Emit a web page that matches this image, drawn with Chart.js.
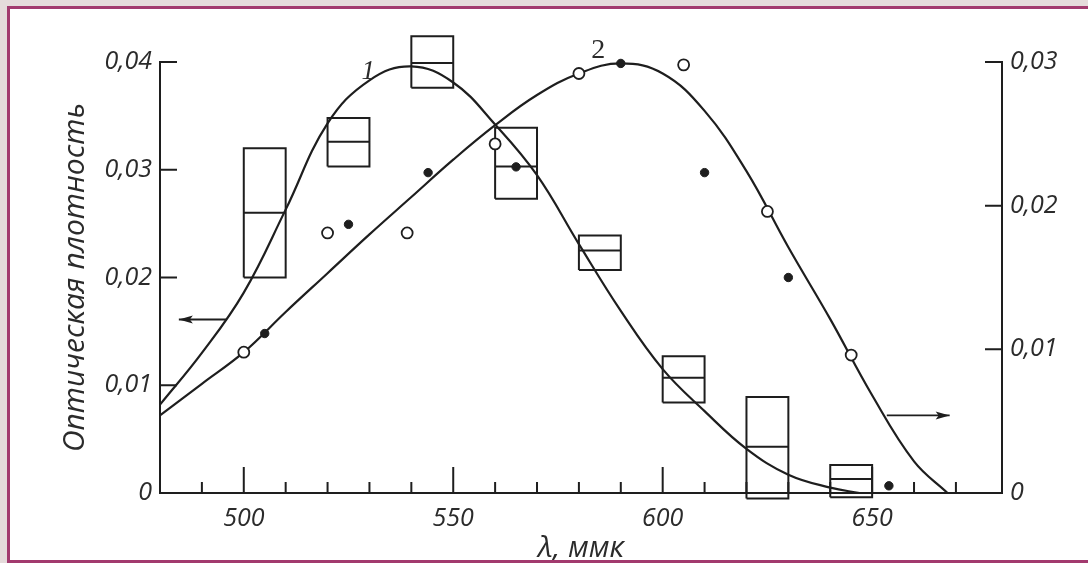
<!DOCTYPE html>
<html lang="ru">
<head>
<meta charset="utf-8">
<title>Оптическая плотность</title>
<script src="https://cdn.jsdelivr.net/npm/chart.js@4.4.1/dist/chart.umd.min.js"></script>
<style>
    html, body { margin: 0; padding: 0; overflow: hidden; background: #e5dbdb; }
    #paper { position: absolute; left: 10px; top: 9px; right: 0; bottom: 3px; background: #ffffff; }
    #frame { position: absolute; left: 7px; top: 6px; right: -10px; bottom: 0; border: 3px solid #a23a6e; pointer-events: none; z-index: 3; }
    #chartContainer { position: absolute; left: 0; top: 0; width: 1088px; height: 563px; z-index: 2; }
</style>
</head>
<body>
<div id="paper"></div>
<div id="chartContainer"><canvas id="spectrum"></canvas></div>
<div id="frame"></div>
<script>
// Curve 1 (left axis)
const curve1X = [480, 490, 500, 510, 520, 530, 540, 550, 560, 570, 580, 590, 600, 610, 620, 630, 640, 647];
const curve1Y = [0.0082, 0.0130, 0.0186, 0.0263, 0.0343, 0.0383, 0.0396, 0.0381, 0.0342, 0.0295, 0.0231, 0.0169, 0.0115, 0.0076, 0.0041, 0.0017, 0.0005, 0.0];

// Curve 2 (right axis)
const curve2X = [480, 490, 500, 510, 520, 530, 540, 550, 560, 570, 580, 590, 600, 610, 620, 630, 640, 650, 660, 668];
const curve2Y = [0.0054, 0.0076, 0.0098, 0.0126, 0.0153, 0.0180, 0.0206, 0.0232, 0.0256, 0.0277, 0.0292, 0.0299, 0.0292, 0.0266, 0.0224, 0.0171, 0.0121, 0.0068, 0.0022, 0.0];

// Open circles and filled dots (right axis)
const openX = [500, 520, 539, 560, 580, 605, 625, 645];
const openY = [0.0098, 0.0181, 0.0181, 0.0243, 0.0292, 0.0298, 0.0196, 0.0096];
const dotX = [505, 525, 544, 565, 590, 610, 630, 654];
const dotY = [0.0111, 0.0187, 0.0223, 0.0227, 0.0299, 0.0223, 0.0150, 0.0005];

// Boxes (left axis): start wavelength, low, middle, high
const boxStart = [500, 520, 540, 560, 580, 600, 620, 640];
const boxLow = [0.0200, 0.0303, 0.0376, 0.0273, 0.0207, 0.0084, -0.0005, -0.0004];
const boxMid = [0.0260, 0.0326, 0.0399, 0.0303, 0.0225, 0.0107, 0.0043, 0.0013];
const boxHigh = [0.0320, 0.0348, 0.0424, 0.0339, 0.0239, 0.0127, 0.0089, 0.0026];
const boxWidth = 10;

// Axis ticks
const xMinorTicks = [490, 500, 510, 520, 530, 540, 550, 560, 570, 580, 590, 600, 610, 620, 630, 640, 650, 660, 670];
const xMajorTicks = [500, 550, 600, 650];
const leftTicks = [0, 0.01, 0.02, 0.03, 0.04];
const rightTicks = [0, 0.01, 0.02, 0.03];

// Curve numbers and arrows, in data units of the left axis
const curveLabels = [{ text: '1', x: 529.7, y: 0.0391, font: 'italic 27px "Liberation Serif"' }, { text: '2', x: 584.6, y: 0.0411, font: '28px "Liberation Serif"' }];
const arrows = [{ x0: 496, x1: 484.5, y: 0.0161 }, { x0: 653.5, x1: 668.5, y: 0.0072 }];

const ink = '#1e1e1e';
const textColor = '#2b2b2b';
const fontFamily = '"Open Sans", "DejaVu Sans", sans-serif';

function toPoints(xs, ys) {
    return xs.map((x, i) => ({ x: x, y: ys[i] }));
}

// Each box: closed rectangle, then its middle line, separated by gaps
function buildBoxes() {
    const pts = [];
    boxStart.forEach((x0, i) => {
        const x1 = x0 + boxWidth;
        pts.push({ x: x0, y: boxLow[i] }, { x: x0, y: boxHigh[i] }, { x: x1, y: boxHigh[i] }, { x: x1, y: boxLow[i] }, { x: x0, y: boxLow[i] });
        pts.push({ x: x0, y: null });
        pts.push({ x: x0, y: boxMid[i] }, { x: x1, y: boxMid[i] });
        pts.push({ x: x1, y: null });
    });
    return pts;
}

function formatTick(value) {
    if (Math.abs(value) < 1e-9) return '0';
    return value.toFixed(2).replace('.', ',');
}

// Inward tick marks, arrows and curve numbers
const decorations = {
    id: 'decorations',
    afterDraw(chart) {
        const ctx = chart.ctx;
        const xs = chart.scales.x;
        const yl = chart.scales.y;
        const yr = chart.scales.y2;
        const area = chart.chartArea;
        ctx.save();
        ctx.strokeStyle = ink;
        ctx.lineWidth = 2;
        ctx.beginPath();
        xMinorTicks.forEach(v => {
            const px = xs.getPixelForValue(v);
            const len = xMajorTicks.includes(v) ? 26 : 11;
            ctx.moveTo(px, area.bottom);
            ctx.lineTo(px, area.bottom - len);
        });
        leftTicks.slice(1).forEach(v => {
            const py = yl.getPixelForValue(v);
            ctx.moveTo(area.left, py);
            ctx.lineTo(area.left + 17, py);
        });
        rightTicks.slice(1).forEach(v => {
            const py = yr.getPixelForValue(v);
            ctx.moveTo(area.right, py);
            ctx.lineTo(area.right - 17, py);
        });
        ctx.stroke();

        // arrows
        ctx.lineWidth = 1.8;
        arrows.forEach(a => {
            const px0 = xs.getPixelForValue(a.x0);
            const px1 = xs.getPixelForValue(a.x1);
            const py = yl.getPixelForValue(a.y);
            const dir = px1 > px0 ? 1 : -1;
            ctx.beginPath();
            ctx.moveTo(px0, py);
            ctx.lineTo(px1, py);
            ctx.stroke();
            ctx.beginPath();
            ctx.moveTo(px1, py);
            ctx.lineTo(px1 - dir * 14, py - 4);
            ctx.lineTo(px1 - dir * 11, py);
            ctx.lineTo(px1 - dir * 14, py + 4);
            ctx.closePath();
            ctx.fillStyle = ink;
            ctx.fill();
        });

        // curve numbers
        ctx.fillStyle = textColor;
        ctx.textAlign = 'center';
        ctx.textBaseline = 'middle';
        curveLabels.forEach(l => {
            ctx.font = l.font;
            ctx.fillText(l.text, xs.getPixelForValue(l.x), yl.getPixelForValue(l.y));
        });
        ctx.restore();
    }
};

const tickFont = { family: fontFamily, size: 25, style: 'italic' };

const ctx = document.getElementById('spectrum').getContext('2d');
new Chart(ctx, {
    type: 'line',
    data: {
        datasets: [
            {
                label: 'open', data: toPoints(openX, openY), yAxisID: 'y2', showLine: false, clip: false,
                pointRadius: 5.5, pointBackgroundColor: '#ffffff', pointBorderColor: ink, pointBorderWidth: 1.8
            },
            {
                label: 'dots', data: toPoints(dotX, dotY), yAxisID: 'y2', showLine: false, clip: false,
                pointRadius: 4.2, pointBackgroundColor: ink, pointBorderColor: ink, pointBorderWidth: 1
            },
            {
                label: '1', data: toPoints(curve1X, curve1Y), yAxisID: 'y',
                borderColor: ink, borderWidth: 2.2, pointRadius: 0, tension: 0.4
            },
            {
                label: '2', data: toPoints(curve2X, curve2Y), yAxisID: 'y2',
                borderColor: ink, borderWidth: 2.2, pointRadius: 0, tension: 0.4
            },
            {
                label: 'boxes', data: buildBoxes(), yAxisID: 'y', clip: false,
                borderColor: ink, borderWidth: 2, pointRadius: 0, tension: 0, spanGaps: false
            }
        ]
    },
    options: {
        responsive: true,
        maintainAspectRatio: false,
        animation: false,
        events: [],
        layout: { padding: { top: 62, left: 0, right: 0, bottom: 0 } },
        plugins: { legend: { display: false }, tooltip: { enabled: false } },
        scales: {
            x: {
                type: 'linear', min: 480, max: 681,
                grid: { display: false, drawTicks: false },
                border: { display: true, color: ink, width: 2 },
                ticks: { padding: 11, color: textColor, font: tickFont, callback: v => String(v) },
                afterBuildTicks(scale) { scale.ticks = xMajorTicks.map(v => ({ value: v })); },
                title: {
                    display: true, text: 'λ, ммк', color: textColor, padding: { top: 0, bottom: 0 },
                    font: { family: fontFamily, size: 30, style: 'italic', lineHeight: 1 }
                },
                afterFit(scale) { scale.height = 70; }
            },
            y: {
                position: 'left', min: 0, max: 0.04,
                grid: { display: false, drawTicks: false },
                border: { display: true, color: ink, width: 2 },
                ticks: { padding: 8, color: textColor, font: tickFont, callback: formatTick },
                afterBuildTicks(scale) { scale.ticks = leftTicks.map(v => ({ value: v })); },
                title: {
                    display: true, text: 'Оптическая плотность', color: textColor, padding: { top: 60, bottom: 0 },
                    font: { family: fontFamily, size: 30, style: 'italic', lineHeight: 1 }
                },
                afterFit(scale) { scale.width = 160; }
            },
            y2: {
                position: 'right', min: 0, max: 0.03,
                grid: { display: false, drawTicks: false },
                border: { display: true, color: ink, width: 2 },
                ticks: { padding: 8, color: textColor, font: tickFont, callback: formatTick },
                afterBuildTicks(scale) { scale.ticks = rightTicks.map(v => ({ value: v })); },
                afterFit(scale) { scale.width = 86; }
            }
        }
    },
    plugins: [decorations]
});
</script>
</body>
</html>
